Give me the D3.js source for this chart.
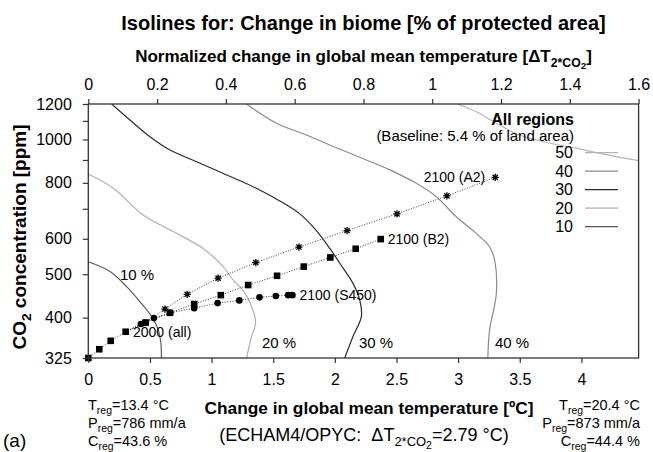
<!DOCTYPE html>
<html>
<head>
<meta charset="utf-8">
<script src="https://cdn.jsdelivr.net/npm/d3@7"></script>
<style>
  body { margin: 0; background: #fff; }
  svg { display: block; font-family: "Liberation Sans", Arial, Helvetica, sans-serif; }
  text { white-space: pre; }
</style>
</head>
<body>
<svg id="chart" width="653" height="452"></svg>
<script>
// Axis ticks
const tempTicks = [0, 0.5, 1, 1.5, 2, 2.5, 3, 3.5, 4];
const normTicks = [0, 0.2, 0.4, 0.6, 0.8, 1, 1.2, 1.4, 1.6];
const co2Ticks = [325, 400, 500, 600, 700, 800, 900, 1000, 1100, 1200];
const co2Labels = [325, 400, 500, 600, 800, 1000, 1200];
const dT2xCO2 = 2.79;   // ECHAM4/OPYC climate sensitivity [°C]

// Isolines: [global mean temperature change (°C), CO2 (ppm)]
const isoLevels = [50, 40, 30, 20, 10];
const iso10 = [[0, 533], [0.176, 507], [0.311, 469], [0.419, 434], [0.514, 402], [0.567, 376], [0.589, 351], [0.593, 325]];
const iso20 = [[0, 837], [0.203, 778], [0.446, 678], [0.716, 617], [0.932, 571], [1.094, 520], [1.189, 480], [1.254, 461], [1.335, 416], [1.357, 389], [1.324, 363], [1.284, 325]];
const iso30 = [[0.19, 1200], [0.338, 1105], [0.5, 1014], [0.662, 947], [0.878, 892], [1.122, 833], [1.337, 784], [1.553, 729], [1.716, 682], [1.845, 628], [1.959, 571], [2.04, 529], [2.147, 477], [2.202, 438], [2.215, 402], [2.147, 363], [2.08, 325]];
const iso40 = [[1.284, 1200], [1.527, 1087], [1.77, 1023], [1.959, 972], [2.256, 900], [2.445, 855], [2.661, 798], [2.823, 745], [2.985, 672], [3.147, 617], [3.255, 576], [3.296, 538], [3.31, 453], [3.255, 375], [3.241, 325]];
const iso50 = [[2.992, 1200], [3.147, 1153], [3.31, 1087], [3.498, 1023], [3.701, 987], [3.958, 956], [4.147, 931], [4.464, 897]];
const isoColors = { 50: "#b4b4b4", 40: "#8a8a8a", 30: "#2a2a2a", 20: "#b0b0b0", 10: "#5a5a5a" };

// Emission pathways: [temperature change (°C), CO2 (ppm)]
const pathCommon = [[0, 325], [0.089, 340], [0.182, 355], [0.303, 372]];
const pathA2 = [[0.46, 390], [0.622, 418], [0.802, 451], [1.053, 490], [1.359, 531], [1.709, 575], [2.099, 626], [2.504, 682], [2.909, 748], [3.301, 823]];
const pathB2 = [[0.465, 390], [0.662, 410], [0.859, 429], [1.075, 449], [1.297, 473], [1.531, 496], [1.748, 520], [1.963, 545], [2.169, 570], [2.372, 599]];
const pathS450 = [[0.427, 387], [0.532, 399], [0.666, 410], [0.859, 420], [1.049, 431], [1.225, 437], [1.389, 444], [1.521, 447], [1.621, 449], [1.656, 449]];

const svg = d3.select("#chart");
const plotLeft = 88.3, plotRight = 638.6, plotTop = 104, plotBottom = 358;

const x = d3.scaleLinear().domain([0, 1.6 * dT2xCO2]).range([plotLeft, plotRight]);
const xTop = d3.scaleLinear().domain([0, 1.6]).range([plotLeft, plotRight]);
const y = d3.scaleLog().domain([325, 1200]).range([plotBottom, plotTop]);

// text with sub/sub-sub scripts
function rich(sel, px, py, parts, size, opts = {}) {
  const t = sel.append("text")
    .attr("x", px).attr("y", py)
    .attr("font-size", size)
    .attr("text-anchor", opts.anchor || "start")
    .attr("font-weight", opts.bold ? "bold" : "normal")
    .attr("fill", "#000");
  if (opts.transform) t.attr("transform", opts.transform);
  let level = 0;
  const shift = [0, 0.27 * size, 0.44 * size];
  const sizes = [size, size * 0.72, size * 0.58];
  parts.forEach(p => {
    const lv = p.sub || 0;
    t.append("tspan")
      .attr("dy", shift[lv] - shift[level])
      .attr("font-size", sizes[lv])
      .text(p.t);
    level = lv;
  });
  return t;
}

// clip region for isolines
svg.append("defs").append("clipPath").attr("id", "plotClip")
  .append("rect").attr("x", plotLeft).attr("y", plotTop)
  .attr("width", plotRight - plotLeft).attr("height", plotBottom - plotTop);

const line = d3.line().x(d => x(d[0])).y(d => y(d[1]));
const smooth = d3.line().x(d => x(d[0])).y(d => y(d[1])).curve(d3.curveCatmullRom.alpha(0.5));

// isolines
const isoData = { 10: iso10, 20: iso20, 30: iso30, 40: iso40, 50: iso50 };
const isoG = svg.append("g").attr("clip-path", "url(#plotClip)");
isoLevels.forEach(lv => {
  isoG.append("path")
    .attr("d", smooth(isoData[lv]))
    .attr("fill", "none")
    .attr("stroke", isoColors[lv])
    .attr("stroke-width", 1.2);
});

// isoline labels
const isoLabel = [["10 %", 120, 280], ["20 %", 262, 348], ["30 %", 359, 348], ["40 %", 495, 348]];
isoLabel.forEach(d => {
  svg.append("text").attr("x", d[1]).attr("y", d[2])
    .attr("font-size", 15).text(d[0]);
});

// pathways
const pathG = svg.append("g");
const dotted = (data) => pathG.append("path")
  .attr("d", line(data)).attr("fill", "none")
  .attr("stroke", "#222").attr("stroke-width", 0.9)
  .attr("stroke-dasharray", "1,1.6");
const last = pathCommon[pathCommon.length - 1];
dotted(pathCommon);
dotted([last].concat(pathS450));
dotted([last].concat(pathB2));
dotted([last].concat(pathA2));

function squares(data) {
  pathG.selectAll(null).data(data).enter().append("rect")
    .attr("x", d => x(d[0]) - 3.3).attr("y", d => y(d[1]) - 3.3)
    .attr("width", 6.6).attr("height", 6.6).attr("fill", "#000");
}
function circles(data) {
  pathG.selectAll(null).data(data).enter().append("circle")
    .attr("cx", d => x(d[0])).attr("cy", d => y(d[1]))
    .attr("r", 3.3).attr("fill", "#000");
}
function stars(data) {
  const r = 3.6, k = r * 0.72;
  const p = `M${-r},0L${r},0M0,${-r}L0,${r}M${-k},${-k}L${k},${k}M${-k},${k}L${k},${-k}`;
  pathG.selectAll(null).data(data).enter().append("path")
    .attr("transform", d => `translate(${x(d[0])},${y(d[1])})`)
    .attr("d", p).attr("stroke", "#000").attr("stroke-width", 1.3).attr("fill", "none");
}
squares(pathCommon);
circles(pathS450);
squares(pathB2);
stars(pathA2);

// pathway labels
const endA2 = pathA2[pathA2.length - 1], endB2 = pathB2[pathB2.length - 1], endS = pathS450[pathS450.length - 1];
svg.append("text").attr("x", x(endA2[0]) - 10).attr("y", y(endA2[1]) + 5)
  .attr("text-anchor", "end").attr("font-size", 14).text("2100 (A2)");
svg.append("text").attr("x", x(endB2[0]) + 7).attr("y", y(endB2[1]) + 5)
  .attr("font-size", 14).text("2100 (B2)");
svg.append("text").attr("x", x(endS[0]) + 7).attr("y", y(endS[1]) + 5)
  .attr("font-size", 14).text("2100 (S450)");
svg.append("text").attr("x", 133).attr("y", 337)
  .attr("font-size", 14).text("2000 (all)");

// axes
const axisStyle = g => {
  g.select(".domain").remove();
  g.selectAll(".tick line").attr("stroke", "#333").attr("stroke-width", 1.2);
  g.selectAll(".tick text").attr("fill", "#000")
    .attr("font-family", "Liberation Sans, Arial, sans-serif").attr("font-size", 16);
};
svg.append("g").attr("transform", `translate(0,${plotBottom})`)
  .call(d3.axisBottom(x).tickValues(tempTicks).tickSize(5).tickPadding(11).tickFormat(d3.format("")))
  .call(axisStyle);
svg.append("g").attr("transform", `translate(0,${plotTop})`)
  .call(d3.axisTop(xTop).tickValues(normTicks).tickSize(5).tickPadding(9).tickFormat(d3.format("")))
  .call(axisStyle);
svg.append("g").attr("transform", `translate(${plotLeft},0)`)
  .call(d3.axisLeft(y).tickValues(co2Ticks).tickSize(5.5).tickPadding(11)
    .tickFormat(d => co2Labels.includes(d) ? d : ""))
  .call(axisStyle);

// frame
svg.append("rect").attr("x", plotLeft).attr("y", plotTop)
  .attr("width", plotRight - plotLeft).attr("height", plotBottom - plotTop)
  .attr("fill", "none").attr("stroke", "#333").attr("stroke-width", 1.3);

// legend
const legG = svg.append("g");
legG.append("text").attr("x", 574).attr("y", 125).attr("text-anchor", "end")
  .attr("font-size", 16).attr("font-weight", "bold").text("All regions");
legG.append("text").attr("x", 574).attr("y", 141).attr("text-anchor", "end")
  .attr("font-size", 15).text("(Baseline: 5.4 % of land area)");
isoLevels.forEach((lv, i) => {
  const ly = 152.7 + i * 18.5;
  legG.append("text").attr("x", 573).attr("y", ly + 5.6).attr("text-anchor", "end")
    .attr("font-size", 16).text(lv);
  legG.append("line").attr("x1", 585).attr("x2", 618).attr("y1", ly).attr("y2", ly)
    .attr("stroke", isoColors[lv]).attr("stroke-width", 1.2);
});

// titles
svg.append("text").attr("x", 363.5).attr("y", 30).attr("text-anchor", "middle")
  .attr("font-size", 20).attr("font-weight", "bold")
  .text("Isolines for: Change in biome [% of protected area]");
rich(svg, 363.5, 62, [
  { t: "Normalized change in global mean temperature [ΔT" },
  { t: "2*CO", sub: 1 }, { t: "2", sub: 2 }, { t: "]" }
], 17, { anchor: "middle", bold: true });
rich(svg, 369, 414, [{ t: "Change in global mean temperature [ºC]" }], 17.3, { anchor: "middle", bold: true });
rich(svg, 364, 441, [
  { t: "(ECHAM4/OPYC:  ΔT" }, { t: "2*CO", sub: 1 }, { t: "2", sub: 2 }, { t: "=2.79 °C)" }
], 18, { anchor: "middle" });
rich(svg, 0, 0, [{ t: "CO" }, { t: "2", sub: 1 }, { t: " concentration [ppm]" }], 19,
  { anchor: "middle", bold: true, transform: "translate(26,237) rotate(-90)" });

svg.append("text").attr("x", 3).attr("y", 447).attr("font-size", 19).text("(a)");

// regional climate at the axis ends
const leftInfo = [
  [{ t: "T" }, { t: "reg", sub: 1 }, { t: "=13.4 °C" }],
  [{ t: "P" }, { t: "reg", sub: 1 }, { t: "=786 mm/a" }],
  [{ t: "C" }, { t: "reg", sub: 1 }, { t: "=43.6 %" }]
];
const rightInfo = [
  [{ t: "T" }, { t: "reg", sub: 1 }, { t: "=20.4 °C" }],
  [{ t: "P" }, { t: "reg", sub: 1 }, { t: "=873 mm/a" }],
  [{ t: "C" }, { t: "reg", sub: 1 }, { t: "=44.4 %" }]
];
leftInfo.forEach((p, i) => rich(svg, 88, 410 + i * 18, p, 14.5));
rightInfo.forEach((p, i) => rich(svg, 640, 410 + i * 18, p, 14.5, { anchor: "end" }));
</script>
</body>
</html>
